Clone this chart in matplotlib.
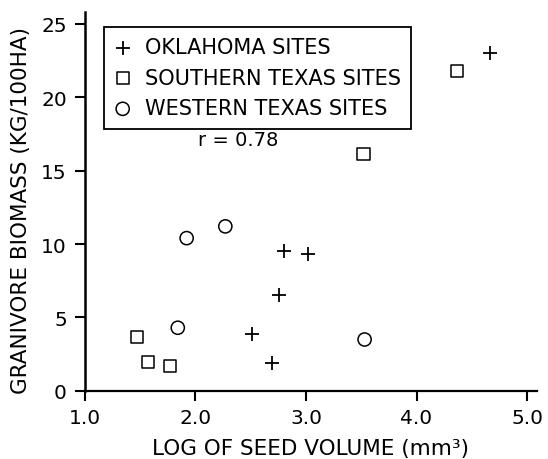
import matplotlib.pyplot as plt

# log seed volume (x) vs granivore biomass (y) by region
ok_x = [4.66, 2.80, 3.02, 2.76, 2.51, 2.69]
ok_y = [23.0, 9.5, 9.3, 6.5, 3.9, 1.9]
stx_x = [4.37, 3.52, 1.47, 1.57, 1.77]
stx_y = [21.8, 16.1, 3.7, 2.0, 1.7]
wtx_x = [1.92, 2.27, 1.84, 3.53]
wtx_y = [10.4, 11.2, 4.3, 3.5]

x_ticks = [1.0, 2.0, 3.0, 4.0, 5.0]
x_ticklabels = ['1.0', '2.0', '3.0', '4.0', '5.0']
y_ticks = [0, 5, 10, 15, 20, 25]

plt.rcParams['font.family'] = 'DejaVu Sans'

fig = plt.figure(figsize=(5.48, 4.6), dpi=100)
ax = fig.add_axes([0.155, 0.148, 0.825, 0.824])

ax.scatter(ok_x, ok_y, marker='+', s=90, color='black', linewidths=1.3,
           label='OKLAHOMA SITES')
ax.scatter(stx_x, stx_y, marker='s', s=75, facecolors='none', edgecolors='black',
           linewidths=1.1, label='SOUTHERN TEXAS SITES')
ax.scatter(wtx_x, wtx_y, marker='o', s=90, facecolors='none', edgecolors='black',
           linewidths=1.1, label='WESTERN TEXAS SITES')

ax.set_xlim(1.0, 5.09)
ax.set_ylim(0, 25.8)
ax.set_xticks(x_ticks)
ax.set_xticklabels(x_ticklabels)
ax.set_yticks(y_ticks)
ax.tick_params(axis='both', direction='out', length=7, width=1.5, labelsize=14.5)
ax.tick_params(axis='y', pad=6)
ax.tick_params(axis='x', pad=5)

ax.spines['top'].set_visible(False)
ax.spines['right'].set_visible(False)
ax.spines['left'].set_linewidth(1.8)
ax.spines['bottom'].set_linewidth(1.6)

ax.set_xlabel('LOG OF SEED VOLUME (mm³)', fontsize=15.5, labelpad=8)
ax.set_ylabel('GRANIVORE BIOMASS (KG/100HA)', fontsize=15.5)
ax.yaxis.set_label_coords(-0.12, 0.478)

ax.text(2.02, 17.1, 'r = 0.78', fontsize=14, va='center', ha='left')

leg = ax.legend(loc='upper left', bbox_to_anchor=(0.042, 0.96), borderaxespad=0,
                fancybox=False, edgecolor='black', fontsize=15, handlelength=0.8,
                handletextpad=0.65, labelspacing=0.5, borderpad=0.5, framealpha=1)
leg.get_frame().set_linewidth(1.3)

fig.savefig('out.png', dpi=100)
